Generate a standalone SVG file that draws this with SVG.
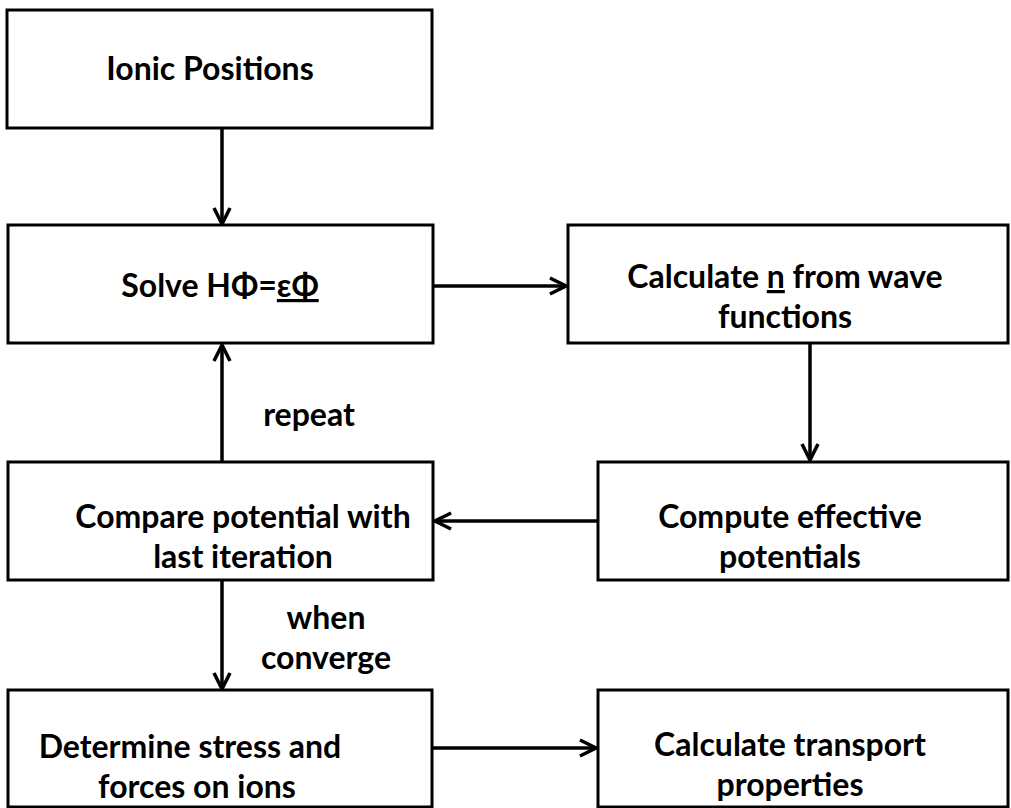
<svg xmlns="http://www.w3.org/2000/svg" width="1011" height="808" viewBox="0 0 1011 808">
<style>
.box{fill:#fff;stroke:#000;stroke-width:3}
.t{font-family:Lato,"Open Sans",sans-serif;font-weight:bold;font-size:32px;fill:#000;text-anchor:middle}
.c{stroke:#000;stroke-width:3.5;fill:none}
</style>
<defs>
<marker id="arr" viewBox="0 0 12 12" refX="11" refY="6" markerWidth="5.5" markerHeight="5.5" markerUnits="strokeWidth" orient="auto">
<path d="M1,1 L11,6 L1,11" fill="none" stroke="#000" stroke-width="2.2"/>
</marker>
</defs>
<rect width="1011" height="808" fill="#fff"/>
<g id="connectors">
<line class="c" x1="222" y1="128" x2="222" y2="224" marker-end="url(#arr)"/>
<line class="c" x1="433" y1="286" x2="566" y2="286" marker-end="url(#arr)"/>
<line class="c" x1="810" y1="343" x2="810" y2="460" marker-end="url(#arr)"/>
<line class="c" x1="598" y1="521" x2="435" y2="521" marker-end="url(#arr)"/>
<line class="c" x1="222" y1="462" x2="222" y2="345" marker-end="url(#arr)"/>
<line class="c" x1="222" y1="580" x2="222" y2="689" marker-end="url(#arr)"/>
<line class="c" x1="432" y1="748" x2="596" y2="748" marker-end="url(#arr)"/>
<text class="t" x="309" y="426">repeat</text>
<text class="t" x="326" y="629">when</text>
<text class="t" x="326" y="669">converge</text>
</g>
<g id="ionic">
<rect class="box" x="7" y="10" width="425" height="118"/>
<text class="t" x="210" y="80">Ionic Positions</text>
</g>
<g id="solve">
<rect class="box" x="8" y="225" width="425" height="118"/>
<text class="t" x="220" y="297">Solve HΦ=<tspan text-decoration="underline">εΦ</tspan></text>
</g>
<g id="calcn">
<rect class="box" x="568" y="225" width="440" height="118"/>
<text class="t" x="785" y="288">Calculate <tspan text-decoration="underline">n</tspan> from wave</text>
<text class="t" x="785" y="328">functions</text>
</g>
<g id="compute">
<rect class="box" x="598" y="462" width="410" height="118"/>
<text class="t" x="790" y="528">Compute effective</text>
<text class="t" x="790" y="568">potentials</text>
</g>
<g id="compare">
<rect class="box" x="8" y="462" width="425" height="118"/>
<text class="t" x="243" y="528">Compare potential with</text>
<text class="t" x="243" y="568">last iteration</text>
</g>
<g id="determine">
<rect class="box" x="8" y="690" width="424" height="117"/>
<text class="t" x="190" y="758">Determine stress and</text>
<text class="t" x="197" y="798">forces on ions</text>
</g>
<g id="transport">
<rect class="box" x="598" y="690" width="410" height="117"/>
<text class="t" x="790" y="756">Calculate transport</text>
<text class="t" x="790" y="796">properties</text>
</g>
</svg>
